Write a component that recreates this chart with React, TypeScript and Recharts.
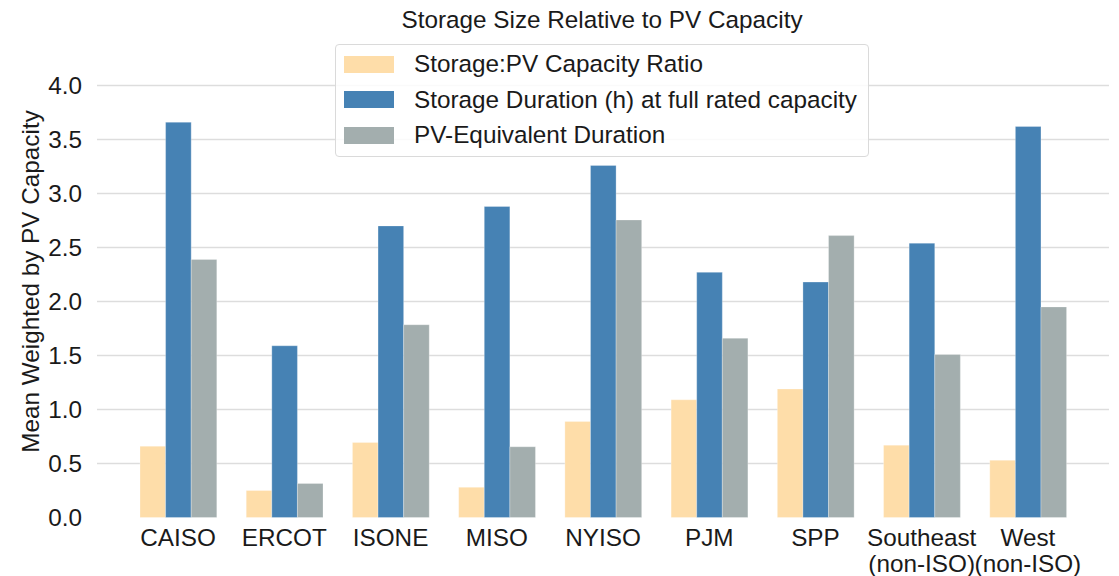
import React from "react";
import { BarChart, Bar, XAxis, YAxis, CartesianGrid, Legend } from "recharts";

const categories = ["CAISO", "ERCOT", "ISONE", "MISO", "NYISO", "PJM", "SPP", "Southeast\n(non-ISO)", "West\n(non-ISO)"];
const capacityRatio = [0.66, 0.25, 0.695, 0.28, 0.89, 1.09, 1.19, 0.67, 0.53];
const storageDuration = [3.66, 1.59, 2.70, 2.88, 3.26, 2.27, 2.18, 2.54, 3.62];
const pvEquivDuration = [2.39, 0.315, 1.785, 0.655, 2.755, 1.66, 2.61, 1.51, 1.95];
const yTicks = [0, 0.5, 1, 1.5, 2, 2.5, 3, 3.5, 4];
const gridValues = [0.5, 1, 1.5, 2, 2.5, 3, 3.5, 4];

const seriesNames = ["Storage:PV Capacity Ratio", "Storage Duration (h) at full rated capacity", "PV-Equivalent Duration"];
const seriesColors = ["#fedda9", "#4682b4", "#a3aeae"];

const data = categories.map((c, i) => ({
  name: c,
  ratio: capacityRatio[i],
  duration: storageDuration[i],
  pvEq: pvEquivDuration[i],
}));

const FONT = '"Liberation Sans", Arial, Helvetica, sans-serif';
const TEXT = "#1a1a1a";
const FS = 24.3;

const XTick = (props: any) => {
  const { x, y, payload } = props;
  const lines = String(payload.value).split("\n");
  return (
    <g>
      {lines.map((l: string, i: number) => (
        <text key={i} x={x} y={y + 28 + i * 26} textAnchor="middle" fontSize={FS} fontFamily={FONT} fill={TEXT}>
          {l}
        </text>
      ))}
    </g>
  );
};

const LegendBox = () => (
  <div
    style={{
      width: 532,
      height: 111,
      border: "1px solid #dadada",
      borderRadius: 4,
      background: "rgba(255,255,255,0.85)",
      position: "relative",
      boxSizing: "content-box",
      fontFamily: FONT,
    }}
  >
    {seriesNames.map((n, i) => (
      <div key={n} style={{ position: "absolute", left: 0, top: 19 + i * 35.5 - 17, height: 34, width: 532 }}>
        <div style={{ position: "absolute", left: 8, top: 8.5, width: 50, height: 17, background: seriesColors[i] }} />
        <div style={{ position: "absolute", left: 78, top: 0, lineHeight: "34px", fontSize: FS, color: TEXT, whiteSpace: "nowrap" }}>
          {n}
        </div>
      </div>
    ))}
  </div>
);

const YLabel = () => (
  <text
    x={30}
    y={281.5}
    transform="rotate(-90, 30, 281.5)"
    textAnchor="middle"
    dominantBaseline="central"
    fontSize={FS}
    fontFamily={FONT}
    fill={TEXT}
  >
    Mean Weighted by PV Capacity
  </text>
);

export default function App() {
  return (
    <div style={{ position: "relative", width: 1119, height: 576, background: "#fff" }}>
      <style>{`body{margin:0;}`}</style>
      <BarChart
        width={1119}
        height={576}
        data={data}
        margin={{ top: 85.5, right: 10, bottom: 0, left: 0 }}
        barGap={0}
        barSize={25.6}
      >
        <CartesianGrid horizontal vertical={false} horizontalValues={gridValues} stroke="#dddddd" strokeWidth={1.5} />
        <XAxis
          dataKey="name"
          height={58.5}
          axisLine={false}
          tickLine={false}
          tickSize={0}
          tickMargin={0}
          interval={0}
          padding={{ left: 28, right: 28 }}
          tick={<XTick />}
        />
        <YAxis
          width={97}
          domain={[0, 4]}
          ticks={yTicks}
          tickFormatter={(v: number) => v.toFixed(1)}
          axisLine={false}
          tickLine={false}
          tickSize={0}
          tickMargin={15}
          tick={{ fontSize: FS, fontFamily: FONT, fill: TEXT }}
          label={<YLabel />}
        />
        <Legend
          verticalAlign="middle"
          align="center"
          layout="horizontal"
          content={<LegendBox />}
          wrapperStyle={{ position: "absolute", left: 335, top: 44, width: 534, height: 113 }}
        />
        <Bar dataKey="ratio" name={seriesNames[0]} fill={seriesColors[0]} stroke="#ffffff" strokeOpacity={0.35} strokeWidth={0.8} isAnimationActive={false} />
        <Bar dataKey="duration" name={seriesNames[1]} fill={seriesColors[1]} stroke="#ffffff" strokeOpacity={0.35} strokeWidth={0.8} isAnimationActive={false} />
        <Bar dataKey="pvEq" name={seriesNames[2]} fill={seriesColors[2]} stroke="#ffffff" strokeOpacity={0.35} strokeWidth={0.8} isAnimationActive={false} />
      </BarChart>
      <svg width={1119} height={40} style={{ position: "absolute", left: 0, top: 0, pointerEvents: "none" }}>
        <text x={602} y={28} textAnchor="middle" fontSize={FS} fontFamily={FONT} fill={TEXT}>
          Storage Size Relative to PV Capacity
        </text>
      </svg>
    </div>
  );
}
